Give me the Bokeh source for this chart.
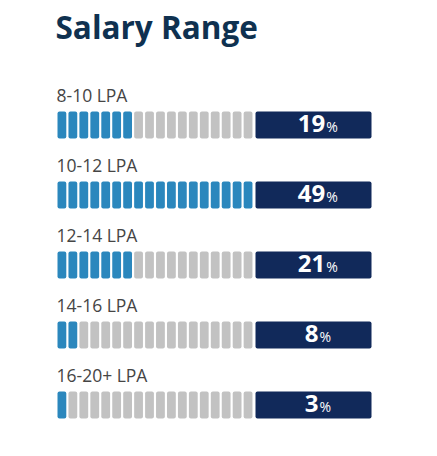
from bokeh.plotting import figure
from bokeh.models import Range1d, ColumnDataSource
from bokeh.core.properties import value
from bokeh.embed import file_html
from bokeh.resources import INLINE

title = "Salary Range"
categories = ["8-10 LPA", "10-12 LPA", "12-14 LPA", "14-16 LPA", "16-20+ LPA"]
percents = [19, 49, 21, 8, 3]
filled_segments = [7, 18, 7, 2, 1]
total_segments = 18

BLUE = "#2b87bd"
GREY = "#c2c2c2"
NAVY = "#11295a"
TITLE_C = "#0f3150"
LABEL_C = "#454545"

W, H = 421, 440
p = figure(width=W, height=H, output_backend="svg", toolbar_location=None,
           x_range=Range1d(0, W), y_range=Range1d(H, 0), min_border=0)
p.axis.visible = False
p.grid.visible = False
p.outline_line_color = None

row_top0, row_step, bar_h = 111, 70, 27
seg_x0, seg_pitch, seg_w = 57, 10.95, 8.8
box_l, box_r = 255, 371

sl, sr, st, sb, sc = [], [], [], [], []
bl, br, bt, bb = [], [], [], []
lx, ly, lt = [], [], []
nx, ny, nt, px_, py_ = [], [], [], [], []
for r, (cat, pct, nf) in enumerate(zip(categories, percents, filled_segments)):
    top = row_top0 + r * row_step
    for i in range(total_segments):
        left = seg_x0 + i * seg_pitch
        sl.append(left); sr.append(left + seg_w)
        st.append(top); sb.append(top + bar_h)
        sc.append(BLUE if i < nf else GREY)
    bl.append(box_l); br.append(box_r); bt.append(top); bb.append(top + bar_h)
    lx.append(56); ly.append(top - 17); lt.append(cat)
    s = str(pct)
    nx.append(311); ny.append(top + 11.5); nt.append(s)
    px_.append(311 + len(s) * 6.9 + 1); py_.append(top + 14.5)

p.quad(left=sl, right=sr, top=st, bottom=sb, fill_color=sc, line_color=None, border_radius=2)
p.quad(left=bl, right=br, top=bt, bottom=bb, fill_color=NAVY, line_color=None, border_radius=2)

p.text(x=[55], y=[26], text=[title], text_font=value("Open Sans"), text_font_style="bold",
       text_font_size="31.5px", text_color=TITLE_C, text_baseline="alphabetic")
p.text(x=lx, y=ly, text=lt, text_font=value("Open Sans"), text_font_size="17.5px",
       text_color=LABEL_C, text_baseline="alphabetic")
p.text(x=nx, y=ny, text=nt, text_font=value("Open Sans"), text_font_style="bold",
       text_font_size="24px", text_color="white", text_align="center", text_baseline="alphabetic")
p.text(x=px_, y=py_, text=["%"] * len(px_), text_font=value("Open Sans"),
       text_font_size="14px", text_color="white", text_align="left", text_baseline="alphabetic")

open("out.html", "w").write(file_html(p, INLINE))
